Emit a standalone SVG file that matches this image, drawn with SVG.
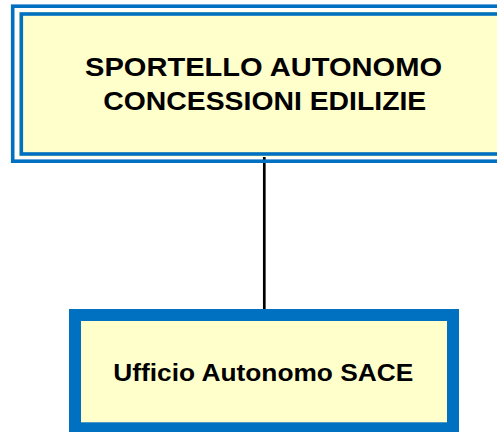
<svg xmlns="http://www.w3.org/2000/svg" width="497" height="432" viewBox="0 0 497 432">
  <style>
    .blue { fill: none; stroke: #0070C0; }
    .cream { fill: #FFFFCC; }
    .label { font-family: "Liberation Sans", Arial, sans-serif; font-weight: bold; fill: #000000; }
    .conn { stroke: #000000; stroke-width: 2.7; fill: none; }
  </style>
  <rect width="497" height="432" fill="#FFFFFF"/>
  <g id="connectors">
    <line class="conn" x1="264.3" y1="157" x2="264.3" y2="309"/>
  </g>
  <g id="node-sportello">
    <rect class="blue" x="12.7" y="6.2" width="503" height="155" stroke-width="3.6"/>
    <rect class="cream" x="18.6" y="11.6" width="492" height="145"/>
    <rect class="blue" x="21.3" y="14" width="486" height="140" stroke-width="3.6"/>
    <text class="label" x="85" y="76" font-size="25" textLength="357" lengthAdjust="spacingAndGlyphs">SPORTELLO AUTONOMO</text>
    <text class="label" x="103.3" y="110" font-size="25" textLength="323" lengthAdjust="spacingAndGlyphs">CONCESSIONI EDILIZIE</text>
  </g>
  <g id="node-sace">
    <rect class="cream" x="75" y="315" width="378" height="113.3"/>
    <rect class="blue" x="75" y="315" width="378" height="113.3" stroke-width="12"/>
    <text class="label" x="113.3" y="381" font-size="24.5" textLength="300" lengthAdjust="spacingAndGlyphs">Ufficio Autonomo SACE</text>
  </g>
</svg>
